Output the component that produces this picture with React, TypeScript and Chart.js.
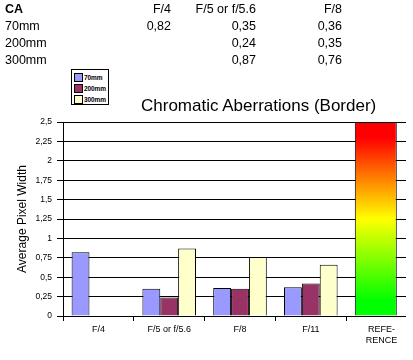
import React, { useEffect, useRef } from 'react';
import { Chart, registerables } from 'chart.js';

Chart.register(...registerables);

const CATEGORIES: (string | string[])[] = ['F/4', 'F/5 or f/5.6', 'F/8', 'F/11', ['REFE-', 'RENCE']];
const SERIES_NAMES = ['70mm', '200mm', '300mm'];
const VALUES_70 = [0.82, 0.35, 0.36, 0.37, null];
const VALUES_200 = [null, 0.24, 0.35, 0.42, null];
const VALUES_300 = [null, 0.87, 0.76, 0.66, null];
const REFERENCE = [null, null, null, null, 2.5];
const TABLE_COLUMNS = ['F/4', 'F/5 or f/5.6', 'F/8'];
const Y_MIN = 0;
const Y_MAX = 2.5;
const Y_STEP = 0.25;
const TITLE = 'Chromatic Aberrations (Border)';
const Y_TITLE = 'Average Pixel Width';
const TABLE_TITLE = 'CA';

const SERIES_VALUES = [VALUES_70, VALUES_200, VALUES_300];
const SERIES_COLORS = ['#9999FF', '#993366', '#FFFFCC'];
const FONT = '"Liberation Sans", Arial, sans-serif';
const GROUP_PCT = 0.757;
const REF_PCT = 0.593;

const fmt = (v: number | null) => (v === null ? '' : v.toFixed(2).replace('.', ','));

const shiftRef = {
  id: 'shiftRef',
  beforeDatasetDraw(chart: any, args: any) {
    if (args.index !== 3) return;
    const xs = chart.scales.x;
    const cat = (xs.right - xs.left) / CATEGORIES.length;
    const off = (cat * REF_PCT - cat * GROUP_PCT) / 2;
    chart.ctx.save();
    chart.ctx.translate(off, 0);
  },
  afterDatasetDraw(chart: any, args: any) {
    if (args.index !== 3) return;
    chart.ctx.restore();
  },
};

function ChartCanvas() {
  const ref = useRef<HTMLCanvasElement | null>(null);
  useEffect(() => {
    if (!ref.current) return;
    const datasets: any[] = SERIES_NAMES.map((name, i) => ({
      label: name,
      data: SERIES_VALUES[i],
      backgroundColor: SERIES_COLORS[i],
      borderColor: '#000',
      borderWidth: 1,
      categoryPercentage: GROUP_PCT,
      barPercentage: 1,
    }));
    datasets.push({
      label: 'Reference',
      data: REFERENCE,
      grouped: false,
      categoryPercentage: 1,
      barPercentage: REF_PCT,
      borderColor: '#000',
      borderWidth: 1,
      backgroundColor: (ctx: any) => {
        const chart = ctx.chart;
        const area = chart.chartArea;
        if (!area) return '#FF0000';
        const g = chart.ctx.createLinearGradient(0, area.top, 0, area.bottom);
        g.addColorStop(0, '#FF0000');
        g.addColorStop(0.08, '#FF0000');
        g.addColorStop(0.5, '#FFFF00');
        g.addColorStop(0.92, '#00FF00');
        g.addColorStop(1, '#00FF00');
        return g;
      },
    });
    const chart = new Chart(ref.current, {
      type: 'bar',
      data: { labels: CATEGORIES as any, datasets },
      plugins: [shiftRef],
      options: {
        animation: false,
        responsive: false,
        devicePixelRatio: 1,
        layout: { padding: { top: 122, right: 13, left: 0, bottom: 0 } },
        plugins: {
          legend: { display: false },
          tooltip: { enabled: false },
          title: { display: false },
        },
        scales: {
          x: {
            type: 'category',
            offset: true,
            grid: {
              display: true,
              drawOnChartArea: false,
              drawTicks: true,
              tickLength: 5,
              color: '#000',
              offset: true,
            },
            border: { display: true, color: '#000' },
            ticks: {
              font: { size: 9, family: FONT },
              color: '#000',
              maxRotation: 0,
              minRotation: 0,
              autoSkip: false,
              padding: 3,
            },
            afterFit: (s: any) => {
              s.height = 44;
            },
          } as any,
          y: {
            min: Y_MIN,
            max: Y_MAX,
            ticks: {
              stepSize: Y_STEP,
              font: { size: 8.5, family: FONT },
              color: '#000',
              padding: 5,
              callback: (v: any) => String(v).replace('.', ','),
            },
            grid: { color: '#000', tickLength: 6, drawTicks: true },
            border: { display: true, color: '#000' },
            title: {
              display: true,
              text: Y_TITLE,
              font: { size: 12, family: FONT },
              color: '#000',
              padding: { top: 15, bottom: 0 },
            },
            afterFit: (s: any) => {
              s.width = 63;
            },
          } as any,
        },
      },
    });
    return () => chart.destroy();
  }, []);
  return <canvas ref={ref} width={430} height={360} style={{ display: 'block' }} />;
}

export default function App() {
  const rowBase = [14, 30.8, 47.5, 64.3];
  const colRight = [171, 256, 342];
  const textTop = (b: number) => b - 12.7;
  const cell: React.CSSProperties = {
    position: 'absolute',
    fontSize: '12.5px',
    lineHeight: '16.8px',
    whiteSpace: 'nowrap',
    color: '#000',
  };
  return (
    <div
      style={{
        position: 'absolute',
        left: 0,
        top: 0,
        width: 413,
        height: 360,
        background: '#fff',
        overflow: 'hidden',
        fontFamily: FONT,
      }}
    >
      <div style={{ position: 'absolute', left: 0, top: 0, width: 406, height: 360, overflow: 'hidden' }}>
        <ChartCanvas />
      </div>
      <div style={{ ...cell, left: 5, top: textTop(rowBase[0]), fontWeight: 'bold' }}>{TABLE_TITLE}</div>
      {TABLE_COLUMNS.map((c, j) => (
        <div key={'h' + j} style={{ ...cell, left: 0, width: colRight[j], textAlign: 'right', top: textTop(rowBase[0]) }}>
          {c}
        </div>
      ))}
      {SERIES_NAMES.map((n, i) => (
        <React.Fragment key={'r' + i}>
          <div style={{ ...cell, left: 5, top: textTop(rowBase[i + 1]) }}>{n}</div>
          {TABLE_COLUMNS.map((_, j) => (
            <div
              key={'c' + j}
              style={{ ...cell, left: 0, width: colRight[j], textAlign: 'right', top: textTop(rowBase[i + 1]) }}
            >
              {fmt(SERIES_VALUES[i][j] as number | null)}
            </div>
          ))}
        </React.Fragment>
      ))}
      <div
        style={{
          position: 'absolute',
          left: 71,
          top: 69,
          width: 38,
          height: 36,
          border: '1px solid #000',
          background: '#fff',
          paddingTop: 2,
          boxSizing: 'border-box',
        }}
      >
        {SERIES_NAMES.map((n, i) => (
          <div key={n} style={{ display: 'flex', alignItems: 'center', height: 11, paddingLeft: 2 }}>
            <div
              style={{
                width: 7,
                height: 7,
                border: '1px solid #000',
                background: SERIES_COLORS[i],
                marginRight: 1,
                flex: 'none',
              }}
            />
            <span
              style={{
                fontSize: '6.5px',
                fontWeight: 'bold',
                lineHeight: '11px',
                whiteSpace: 'nowrap',
                letterSpacing: '-0.1px',
              }}
            >
              {n}
            </span>
          </div>
        ))}
      </div>
      <div
        style={{
          position: 'absolute',
          left: 141,
          top: 96.6,
          fontSize: '17px',
          lineHeight: '17px',
          whiteSpace: 'nowrap',
          color: '#000',
        }}
      >
        {TITLE}
      </div>
    </div>
  );
}
